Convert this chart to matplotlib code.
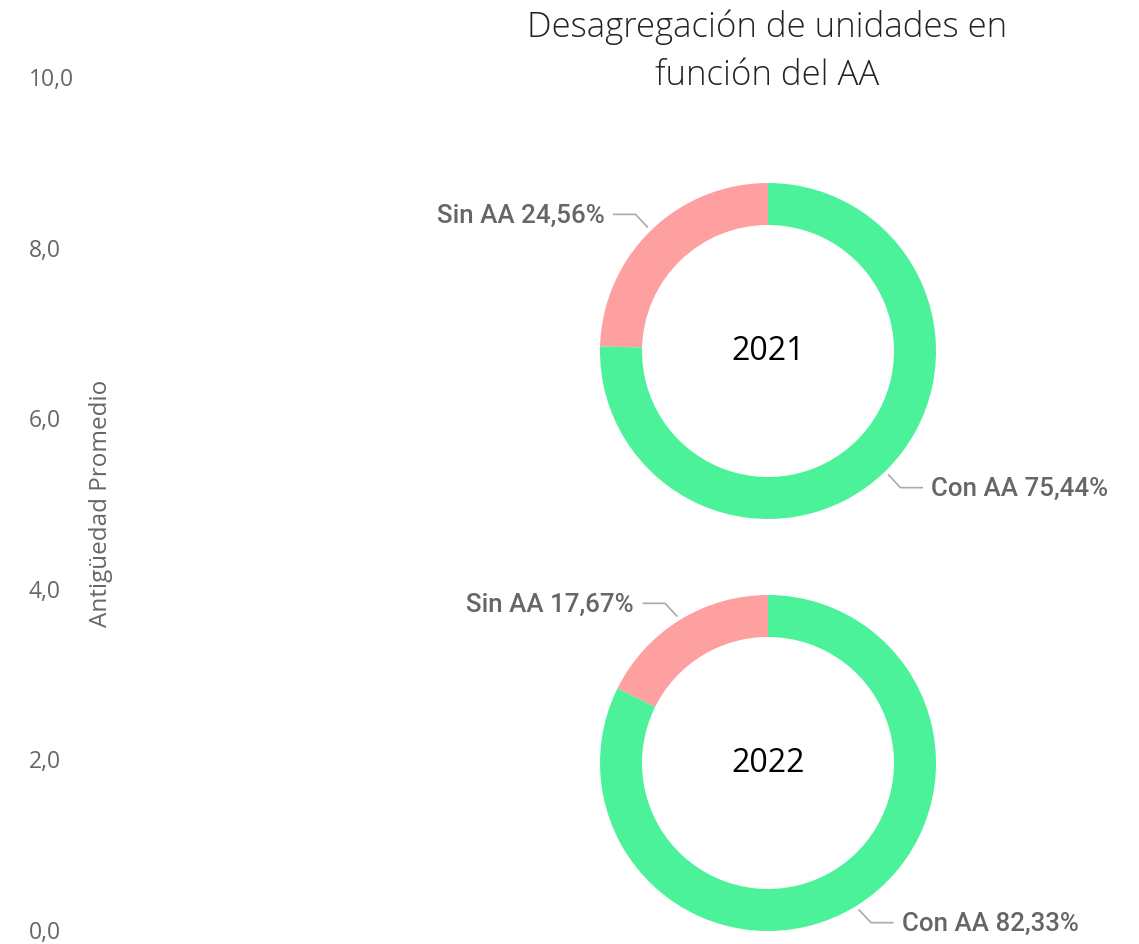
import matplotlib
matplotlib.use("Agg")
import matplotlib.pyplot as plt
import numpy as np

# datos
years = ["2021", "2022"]
sin_aa = [24.56, 17.67]
con_aa = [75.44, 82.33]
labels = ["Sin AA", "Con AA"]
yticks = [0, 2, 4, 6, 8, 10]

W, H = 1139, 945
fig = plt.figure(figsize=(W / 100, H / 100), dpi=100)
fig.patch.set_facecolor("white")

grey_txt = "#666666"
col_sin = "#FFA0A0"
col_con = "#4CF29A"

# eje Y vacio a la izquierda
ax = fig.add_axes([90 / W, (H - 930) / H, 400 / W, (930 - 77) / H])
ax.set_ylim(0, 10)
ax.set_yticks(yticks)
ax.set_yticklabels([f"{v:.1f}".replace(".", ",") for v in yticks],
                   fontsize=16.5, color=grey_txt, family="Open Sans")
for lab in ax.get_yticklabels():
    lab.set_horizontalalignment("left")
ax.tick_params(axis="y", length=0, pad=44)
ax.set_xticks([])
for s in ax.spines.values():
    s.set_visible(False)
ax.set_ylabel("Antigüedad Promedio", fontsize=17.5, color=grey_txt,
              family="Open Sans")
ax.yaxis.set_label_coords(0.057, 0.5)

fig.text(767 / W, 1 - 27 / H, "Desagregación de unidades en",
         ha="center", va="center", fontsize=25, color="#252423",
         family="Open Sans", weight="light")
fig.text(767 / W, 1 - 76 / H, "función del AA",
         ha="center", va="center", fontsize=25, color="#252423",
         family="Open Sans", weight="light")

centers = [352, 764]
R = 168
for i, yr in enumerate(years):
    cy = centers[i]
    dax = fig.add_axes([(768 - R) / W, (H - cy - R) / H, 2 * R / W, 2 * R / H])
    vals = [sin_aa[i], con_aa[i]]
    wedges, _ = dax.pie(vals, colors=[col_sin, col_con], startangle=90,
                        counterclock=True, radius=1,
                        wedgeprops=dict(width=0.25, linewidth=0))
    dax.set_xlim(-1, 1)
    dax.set_ylim(-1, 1)
    dax.axis("off")
    dax.text(0, 0, yr, ha="center", va="center", fontsize=23,
             color="black", family="Open Sans")

    for w, lab, v in zip(wedges, labels, vals):
        ang = np.deg2rad((w.theta1 + w.theta2) / 2)
        sx = np.sign(np.cos(ang))
        sy = np.sign(np.sin(ang))
        p0 = 1.03 * np.array([np.cos(ang), np.sin(ang)])
        p1 = p0 + np.array([sx * 0.07, sy * 0.075])
        p2 = p1 + np.array([sx * 0.13, 0])
        dax.plot([p0[0], p1[0], p2[0]], [p0[1], p1[1], p2[1]],
                 color="#AAAAAA", lw=1.2, clip_on=False)
        txt = f"{lab} {v:.2f}%".replace(".", ",")
        dax.text(p2[0] + sx * 0.055, p2[1], txt,
                 ha="left" if sx > 0 else "right", va="center",
                 fontsize=18.6, color=grey_txt, family="Roboto",
                 weight="medium", clip_on=False)

fig.savefig("out.png", dpi=100, facecolor="white")
